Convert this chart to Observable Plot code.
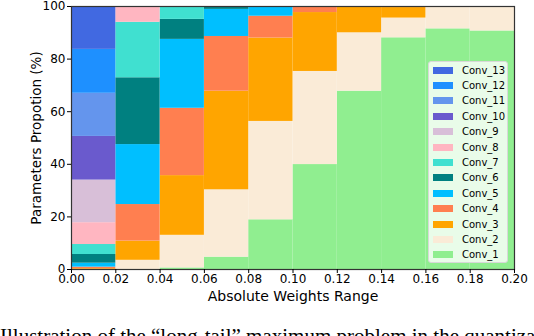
<!DOCTYPE html>
<html>
<head>
<meta charset="utf-8">
<script src="https://cdn.jsdelivr.net/npm/d3@7"></script>
<script src="https://cdn.jsdelivr.net/npm/@observablehq/plot@0.6"></script>
<style>
  html, body { margin: 0; padding: 0; background: #fff; width: 534px; height: 336px; overflow: hidden; }
  #wrap { position: relative; width: 534px; height: 336px; overflow: hidden; }
  #legend { position: absolute; left: 428px; top: 61px; width: 80px; height: 202px;
    background: rgba(255,255,255,0.8); border: 1px solid #d8d8d8; border-radius: 3px; box-sizing: border-box;
    font-family: "DejaVu Sans", sans-serif; font-size: 10px; color: #000; }
  .row { position: absolute; left: 4px; height: 12px; display: flex; align-items: center; }
  .sw { width: 20px; height: 7px; margin-right: 9px; }
  #caption { position: absolute; left: 0px; top: 326px; font-family: "Liberation Serif", serif; font-size: 21px; line-height: 21px; white-space: nowrap; color: #000; }
</style>
</head>
<body>
<div id="wrap">
  <div id="chart"></div>
  <div id="legend"></div>
  <div id="caption">Illustration of the “long-tail” maximum problem in the quantizatio</div>
</div>
<script>
// Bin edges (absolute weights range)
const binStart = [0.00, 0.02, 0.04, 0.06, 0.08, 0.10, 0.12, 0.14, 0.16, 0.18];
const binWidth = 0.02;
const layers = ["Conv_1","Conv_2","Conv_3","Conv_4","Conv_5","Conv_6","Conv_7","Conv_8","Conv_9","Conv_10","Conv_11","Conv_12","Conv_13"];
const colors = ["#90EE90","#FAEBD7","#FFA500","#FF7F50","#00BFFF","#008080","#40E0D0","#FFB6C1","#D8BFD8","#6A5ACD","#6495ED","#1E90FF","#4169E1"];
// Percent of parameters in each bin, per layer
const conv1  = [0.0, 0.0,  0.6,  4.7, 18.9, 39.9, 67.8, 88.1, 91.5, 90.7];
const conv2  = [0.0, 3.5, 12.4, 25.6, 37.4, 35.4, 22.2,  7.5,  8.5,  9.3];
const conv3  = [0.3, 7.3, 22.7, 37.5, 31.7, 22.4,  9.7,  4.0,  0.0,  0.0];
const conv4  = [0.6,13.9, 25.6, 20.8,  8.3,  2.3,  0.3,  0.4,  0.0,  0.0];
const conv5  = [1.5,22.8, 26.2, 10.3,  3.7,  0.0,  0.0,  0.0,  0.0,  0.0];
const conv6  = [3.3,25.4,  7.6,  0.8,  0.0,  0.0,  0.0,  0.0,  0.0,  0.0];
const conv7  = [3.8,21.1,  4.9,  0.3,  0.0,  0.0,  0.0,  0.0,  0.0,  0.0];
const conv8  = [8.3, 6.0,  0.0,  0.0,  0.0,  0.0,  0.0,  0.0,  0.0,  0.0];
const conv9  = [16.2,0.0,  0.0,  0.0,  0.0,  0.0,  0.0,  0.0,  0.0,  0.0];
const conv10 = [16.6,0.0,  0.0,  0.0,  0.0,  0.0,  0.0,  0.0,  0.0,  0.0];
const conv11 = [16.4,0.0,  0.0,  0.0,  0.0,  0.0,  0.0,  0.0,  0.0,  0.0];
const conv12 = [16.7,0.0,  0.0,  0.0,  0.0,  0.0,  0.0,  0.0,  0.0,  0.0];
const conv13 = [16.3,0.0,  0.0,  0.0,  0.0,  0.0,  0.0,  0.0,  0.0,  0.0];
const series = [conv1, conv2, conv3, conv4, conv5, conv6, conv7, conv8, conv9, conv10, conv11, conv12, conv13];
const xTicks = [0.00,0.02,0.04,0.06,0.08,0.10,0.12,0.14,0.16,0.18,0.20];
const yTicks = [0,20,40,60,80,100];

const data = [];
series.forEach((vals, li) => {
  vals.forEach((v, bi) => {
    data.push({layer: layers[li], x1: binStart[bi], x2: +(binStart[bi] + binWidth).toFixed(2), value: v});
  });
});

const chart = Plot.plot({
  width: 534,
  height: 312,
  marginLeft: 71,
  marginRight: 20,
  marginTop: 6,
  marginBottom: 43,
  style: {fontFamily: "DejaVu Sans, sans-serif", fontSize: "12px", color: "#000", background: "transparent"},
  x: {domain: [0, 0.2]},
  y: {domain: [0, 100]},
  color: {domain: layers, range: colors},
  marks: [
    Plot.rectY(data, Plot.stackY({x1: "x1", x2: "x2", y: "value", fill: "layer", order: layers, inset: 0})),
    Plot.frame({stroke: "#333", strokeWidth: 1.2}),
    Plot.axisX({ticks: xTicks, tickFormat: d3.format(".2f"), tickSize: 4, tickPadding: 1, label: "Absolute Weights Range", labelAnchor: "center", labelArrow: "none", labelOffset: 31, fontSize: 12}),
    Plot.axisY({ticks: yTicks, tickSize: 4, tickPadding: 2, label: "Parameters Propotion (%)", labelAnchor: "center", labelArrow: "none", labelOffset: 40, fontSize: 12})
  ]
});
chart.querySelectorAll("[aria-label='x-axis label'] text").forEach(t => t.setAttribute("font-size", "14px"));
chart.querySelectorAll("[aria-label='y-axis label'] text").forEach(t => t.setAttribute("font-size", "13.5px"));
document.getElementById("chart").appendChild(chart);

const legend = document.getElementById("legend");
const legendOrder = layers.slice().reverse();
legendOrder.forEach((name, i) => {
  const row = document.createElement("div");
  row.className = "row";
  row.style.top = (2 + i * 15.4) + "px";
  const sw = document.createElement("div");
  sw.className = "sw";
  sw.style.background = colors[layers.indexOf(name)];
  const lab = document.createElement("span");
  lab.textContent = name;
  row.appendChild(sw); row.appendChild(lab);
  legend.appendChild(row);
});
</script>
</body>
</html>
